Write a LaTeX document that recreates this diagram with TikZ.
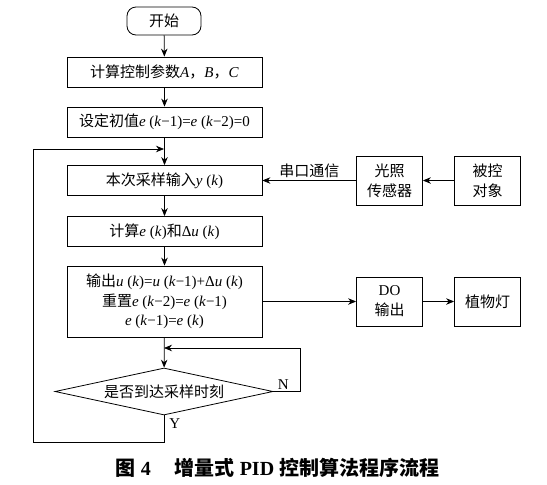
\documentclass[tikz,border=0pt]{standalone}
\usepackage{fontspec}
\setmainfont{Liberation Serif}
\newfontfamily\cjk{Noto Sans CJK SC}
\usepackage{tikz}
\usetikzlibrary{arrows, arrows.meta, shapes, positioning}

\newcommand{\vi}[1]{\textit{#1}}

\begin{document}
\begin{tikzpicture}[
        x=1pt, y=-1pt,
        line width=0.8pt,
        % Set the look of the boxes
        box/.style={draw, rectangle, minimum width=195pt, minimum height=30pt,
            inner sep=2pt, align=center, font=\fontsize{15}{19.5}\selectfont},
        smallbox/.style={draw, rectangle, minimum width=66pt, minimum height=49pt,
            inner sep=2pt, align=center, font=\fontsize{15}{20}\selectfont},
        term/.style={draw, rectangle, rounded corners=9pt, minimum width=74pt,
            minimum height=28pt, font=\fontsize{15}{19}\selectfont},
        decision/.style={draw, diamond, aspect=4.6, minimum width=218pt,
            minimum height=47pt, inner sep=0pt, font=\fontsize{15}{19}\selectfont},
        flow/.style={-{Stealth[length=8pt, width=6.5pt]}},
        tag/.style={font=\fontsize{15}{19}\selectfont, inner sep=2pt}
    ]
    \useasboundingbox (0,0) rectangle (547,485);

    % main column
    \node [term] (start) at (164,21) {\cjk 开始};
    \node [box] (calc) at (164.5,72)
        {{\cjk 计算控制参数}\vi{A}{\cjk ，}\vi{B}{\cjk ，}\vi{C}};
    \node [box] (init) at (164.5,122)
        {{\cjk 设定初值}\vi{e}~(\vi{k}−1)=\vi{e}~(\vi{k}−2)=0};
    \node [box] (sample) at (164.5,180.5)
        {{\cjk 本次采样输入}\vi{y}~(\vi{k})};
    \node [box] (delta) at (164.5,231.5)
        {{\cjk 计算}\vi{e}~(\vi{k}){\cjk 和}Δ\vi{u}~(\vi{k})};
    \node [box, minimum height=71pt] (output) at (164.5,301.5)
        {{\cjk 输出}\vi{u}~(\vi{k})=\vi{u}~(\vi{k}−1)+Δ\vi{u}~(\vi{k})\\
         {\cjk 重置}\vi{e}~(\vi{k}−2)=\vi{e}~(\vi{k}−1)\\
         \vi{e}~(\vi{k}−1)=\vi{e}~(\vi{k})};
    \node [decision] (judge) at (164,391.5) {\cjk 是否到达采样时刻};

    % right side
    \node [smallbox] (sensor) at (389.5,180.5) {\cjk 光照\\\cjk 传感器};
    \node [smallbox] (plant) at (487.5,180.5) {\cjk 被控\\\cjk 对象};
    \node [smallbox] (do) at (389.5,301.5) {DO\\\cjk 输出};
    \node [smallbox] (lamp) at (487.5,301.5) {\cjk 植物灯};

    % caption
    \node [font=\fontsize{20}{24}\selectfont\bfseries] (caption) at (277.5,468)
        {{\cjk 图} 4\hspace{24pt}{\cjk 增量式} PID {\cjk 控制算法程序流程}};

    \coordinate (yback) at (164,149);
    \coordinate (nback) at (164,348);

    \draw [flow] (start) -- (calc);
    \draw [flow] (calc) -- (init);
    \draw [flow] (init) -- (sample);
    \draw [flow] (sample) -- (delta);
    \draw [flow] (delta) -- (output);
    \draw [flow] (output) -- (judge);
    \draw [flow] (plant) -- (sensor);
    \draw [flow] (sensor) -- node [tag, above] {\cjk 串口通信} (sample);
    \draw [flow] (output) -- (do);
    \draw [flow] (do) -- (lamp);

    % not yet time: wait
    \draw [flow] (judge.east) -- ++(27,0) |- (nback);
    \node [tag, above right, xshift=2pt] (no) at (judge.east) {N};
    % time reached: next sample
    \draw [flow] (judge.south) -- ++(0,26.5) -| (33,149) -- (yback);
    \node [tag, below right, xshift=3pt, yshift=-1pt] (yes) at (judge.south) {Y};
\end{tikzpicture}
\end{document}
